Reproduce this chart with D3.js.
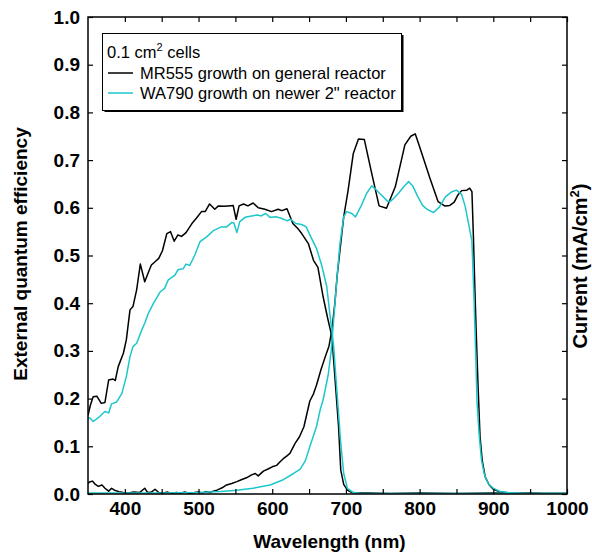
<!DOCTYPE html>
<html>
<head>
<meta charset="utf-8">
<script src="https://cdn.jsdelivr.net/npm/d3@7"></script>
<style>
  html, body { margin: 0; padding: 0; background: #fff; }
  svg { display: block; font-family: "Liberation Sans", Arial, Helvetica, sans-serif; }
</style>
</head>
<body>
<svg id="chart" width="592" height="555"></svg>
<script>
// ---------------- DATA ----------------
const xTicks = [400, 450, 500, 550, 600, 650, 700, 750, 800, 850, 900, 950, 1000];
const yTicks = [0, 0.1, 0.2, 0.3, 0.4, 0.5, 0.6, 0.7, 0.8, 0.9, 1.0];
const legendTitle = "0.1 cm";
const seriesNames = ["MR555 growth on general reactor", "WA790 growth on newer 2\" reactor"];
const seriesColors = ["#000000", "#1cc7cc"];

// MR555 top cell (black)
const mrTopWl = [350,353,357,362,368,373,378,384,387,391,398,402,407,411,416,421,427,432,436,441,446,451,457,462,467,472,477,483,491,497,504,509,515,522,527,534,540,547,551,555,561,567,574,581,590,599,608,613,620,628,635,640,649,656,662,669,675,681,685,690,693,697,702,708,715,730,760,800,850,900,950,1000];
const mrTopEqe = [0.165,0.185,0.204,0.205,0.19,0.192,0.239,0.241,0.238,0.267,0.295,0.323,0.386,0.393,0.428,0.482,0.445,0.465,0.48,0.487,0.494,0.51,0.546,0.55,0.53,0.543,0.54,0.548,0.567,0.578,0.592,0.592,0.608,0.597,0.604,0.603,0.604,0.605,0.576,0.604,0.608,0.604,0.61,0.6,0.597,0.592,0.597,0.594,0.598,0.567,0.556,0.546,0.525,0.49,0.475,0.414,0.37,0.33,0.246,0.141,0.05,0.02,0.008,0.003,0.002,0.002,0.001,0.002,0.001,0.002,0.001,0.001];

// MR555 bottom cell (black)
const mrBotWl = [350,352,356,360,364,369,373,378,382,386,392,398,405,412,420,427,431,436,441,446,452,458,464,470,476,482,488,495,500,505,510,515,520,525,532,538,545,552,558,565,572,577,581,588,595,600,606,611,615,620,624,631,637,643,651,656,660,666,672,677,681,685,688,692,697,703,710,717,725,735,745,755,767,780,788,794,800,807,814,825,834,841,847,852,857,864,868,871,873,875,877,879,882,885,889,894,900,908,916,930,950,970,1000];
const mrBotEqe = [0.022,0.025,0.027,0.02,0.016,0.019,0.012,0.006,0.012,0.008,0.005,0.003,0.002,0.004,0.003,0.012,0.003,0.004,0.01,0.003,0.002,0.004,0.001,0.003,0.002,0.004,0.001,0.003,0.004,0.002,0.005,0.003,0.006,0.008,0.013,0.019,0.022,0.026,0.03,0.034,0.04,0.043,0.038,0.048,0.053,0.057,0.06,0.068,0.074,0.08,0.085,0.106,0.12,0.141,0.195,0.21,0.228,0.26,0.288,0.31,0.344,0.4,0.456,0.512,0.581,0.637,0.714,0.744,0.743,0.672,0.604,0.599,0.644,0.732,0.75,0.755,0.728,0.695,0.662,0.613,0.604,0.605,0.612,0.627,0.636,0.637,0.641,0.634,0.539,0.43,0.33,0.24,0.12,0.07,0.036,0.02,0.01,0.005,0.003,0.001,0.002,0.001,0.001];

// WA790 top cell (cyan)
const waTopWl = [350,353,357,364,373,378,382,389,396,402,407,411,416,423,427,432,439,448,454,459,468,472,479,483,488,495,502,511,520,531,538,545,548,552,556,563,572,580,585,591,597,606,612,620,625,632,640,646,652,660,667,674,678,683,688,693,697,702,710,720,800,900,1000];
const waTopEqe = [0.16,0.159,0.152,0.16,0.173,0.17,0.189,0.193,0.211,0.246,0.288,0.309,0.316,0.344,0.358,0.379,0.4,0.424,0.431,0.449,0.459,0.47,0.472,0.482,0.479,0.501,0.529,0.539,0.552,0.56,0.56,0.569,0.568,0.548,0.571,0.58,0.583,0.585,0.583,0.588,0.58,0.581,0.578,0.573,0.576,0.567,0.565,0.56,0.54,0.515,0.48,0.435,0.38,0.316,0.211,0.106,0.043,0.012,0.003,0.001,0.001,0.001,0.001];

// WA790 bottom cell (cyan)
const waBotWl = [350,400,450,500,530,552,574,597,615,629,638,645,651,660,665,669,676,680,683,688,692,697,701,708,713,721,728,735,741,748,757,760,765,771,778,785,791,797,804,810,819,827,835,843,850,857,862,866,871,874,876,878,881,884,888,893,900,908,920,940,1000];
const waBotEqe = [0.002,0.002,0.002,0.003,0.005,0.008,0.012,0.019,0.03,0.043,0.052,0.07,0.099,0.141,0.176,0.197,0.25,0.3,0.358,0.456,0.526,0.581,0.592,0.588,0.581,0.605,0.63,0.646,0.638,0.627,0.613,0.613,0.62,0.63,0.643,0.655,0.645,0.625,0.605,0.597,0.59,0.602,0.623,0.633,0.637,0.628,0.602,0.57,0.53,0.4,0.3,0.19,0.12,0.071,0.04,0.022,0.012,0.006,0.003,0.001,0.001];

// ---------------- LAYOUT ----------------
const svg = d3.select("#chart");
const L = 88, R = 567, T = 17, B = 494;
const x = d3.scaleLinear().domain([350, 1000]).range([L, R]);
const y = d3.scaleLinear().domain([0, 1]).range([B, T]);
const FONT = "'Liberation Sans', Arial, Helvetica, sans-serif";

svg.append("defs").append("clipPath").attr("id", "clip")
  .append("rect").attr("x", L).attr("y", T).attr("width", R - L).attr("height", B - T);

// lines
const zip = (a, b) => a.map((v, i) => [v, b[i]]);
const line = d3.line().x(d => x(d[0])).y(d => y(d[1]));
const g = svg.append("g").attr("clip-path", "url(#clip)");
const curves = [
  [zip(mrTopWl, mrTopEqe), seriesColors[0]],
  [zip(mrBotWl, mrBotEqe), seriesColors[0]],
  [zip(waTopWl, waTopEqe), seriesColors[1]],
  [zip(waBotWl, waBotEqe), seriesColors[1]]
];
curves.forEach(([data, color]) => {
  g.append("path").datum(data).attr("d", line)
    .attr("fill", "none").attr("stroke", color).attr("stroke-width", 1.5)
    .attr("stroke-linejoin", "round");
});

// axes
function styleAxis(sel) {
  sel.select(".domain").remove();
  sel.selectAll(".tick line").attr("stroke", "#000").attr("stroke-width", 1.2);
  sel.selectAll(".tick text").attr("fill", "#000")
    .style("font-family", FONT).style("font-size", "19px").style("font-weight", "bold");
}
svg.append("g").attr("transform", `translate(0,${B})`)
  .call(d3.axisBottom(x).tickValues(xTicks).tickSize(-5).tickPadding(8)
    .tickFormat(d => d % 100 === 0 ? d3.format("d")(d) : ""))
  .call(styleAxis);
svg.append("g").attr("transform", `translate(0,${T})`)
  .call(d3.axisTop(x).tickValues(xTicks).tickSize(-5).tickFormat(""))
  .call(styleAxis);
svg.append("g").attr("transform", `translate(${L},0)`)
  .call(d3.axisLeft(y).tickValues(yTicks).tickSize(-5).tickPadding(8).tickFormat(d3.format(".1f")))
  .call(styleAxis);
svg.append("g").attr("transform", `translate(${R},0)`)
  .call(d3.axisRight(y).tickValues(yTicks).tickSize(-5).tickFormat(""))
  .call(styleAxis);

// frame
svg.append("rect").attr("x", L).attr("y", T).attr("width", R - L).attr("height", B - T)
  .attr("fill", "none").attr("stroke", "#000").attr("stroke-width", 1.5);

// titles
svg.append("text").attr("x", (L + R) / 2 + 2).attr("y", 548)
  .attr("text-anchor", "middle").style("font-size", "19px").style("font-weight", "bold")
  .text("Wavelength (nm)");
svg.append("text").attr("transform", "translate(27,254) rotate(-90)")
  .attr("text-anchor", "middle").style("font-size", "19px").style("font-weight", "bold")
  .text("External quantum efficiency");
const rt = svg.append("text").attr("transform", "translate(587,266) rotate(-90)")
  .attr("text-anchor", "middle").style("font-size", "20px").style("font-weight", "bold");
rt.append("tspan").text("Current (mA/cm");
rt.append("tspan").attr("dy", -8).style("font-size", "13px").text("2");
rt.append("tspan").attr("dy", 8).text(")");

// legend
const lg = svg.append("g");
lg.append("rect").attr("x", 104.5).attr("y", 35).attr("width", 299).attr("height", 77).attr("fill", "#000");
lg.append("rect").attr("x", 102.5).attr("y", 33.5).attr("width", 299).attr("height", 77)
  .attr("fill", "#fff").attr("stroke", "#000").attr("stroke-width", 1);
const lt = lg.append("text").attr("x", 107).attr("y", 58).style("font-size", "16.5px");
lt.append("tspan").text(legendTitle);
lt.append("tspan").attr("dy", -7).style("font-size", "11px").text("2");
lt.append("tspan").attr("dy", 7).text(" cells");
seriesNames.forEach((name, i) => {
  const yy = 73 + i * 20;
  lg.append("line").attr("x1", 108).attr("x2", 133).attr("y1", yy).attr("y2", yy)
    .attr("stroke", seriesColors[i]).attr("stroke-width", 1.5);
  lg.append("text").attr("x", 140).attr("y", yy + 5.5).style("font-size", "16.5px").text(name);
});
</script>
</body>
</html>
